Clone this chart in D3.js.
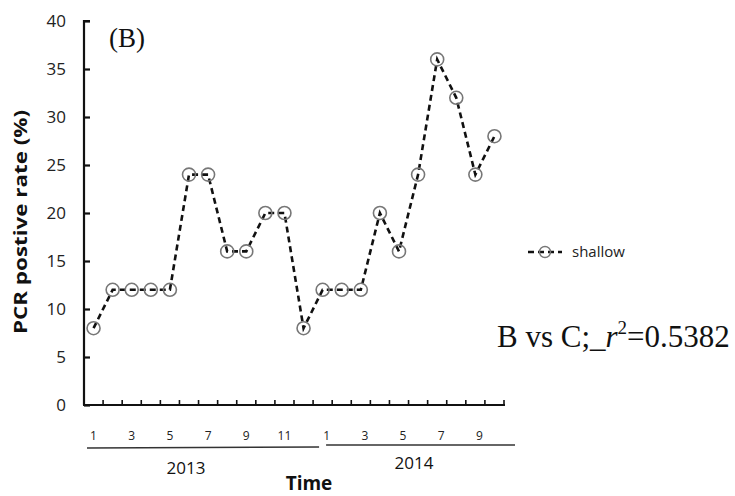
<!DOCTYPE html>
<meta charset="utf-8"/>
<head>
<style>
  body { margin:0; background:#fff; }
</style>
<script src="https://d3js.org/d3.v7.min.js" charset="utf-8"></script>
</head>
<body>
<script>
  // chart values
  var months2013 = [1,2,3,4,5,6,7,8,9,10,11,12];
  var months2014 = [1,2,3,4,5,6,7,8,9,10];
  var shallow2013 = [8,12,12,12,12,24,24,16,16,20,20,8];
  var shallow2014 = [12,12,12,20,16,24,36,32,24,28];
  var yTicks = [0,5,10,15,20,25,30,35,40];
  var years = ["2013","2014"];

  var sans = "'Open Sans', 'Noto Sans', sans-serif";
  var serif = "'Liberation Serif', 'Times New Roman', serif";

  var data = months2013.map(function(m,i){ return {key:"2013-"+m, year:"2013", month:m, value:shallow2013[i]}; })
    .concat(months2014.map(function(m,i){ return {key:"2014-"+m, year:"2014", month:m, value:shallow2014[i]}; }));

  var width = 735, height = 496;
  var svg = d3.select("body").append("svg")
    .attr("width", width)
    .attr("height", height)
    .style("font-family", sans);

  var x = d3.scaleBand()
    .domain(data.map(function(d){ return d.key; }))
    .range([84, 504]);

  var y = d3.scaleLinear()
    .domain([0, 40])
    .range([405, 21]);

  // y axis
  var yAxis = d3.axisRight(y).tickValues(yTicks).tickSize(6).tickFormat("");
  var gy = svg.append("g").attr("transform", "translate(84,0)").call(yAxis);
  gy.select(".domain").attr("stroke","#111").attr("stroke-width",2.2)
    .attr("d", "M6,21H0V405");
  gy.selectAll(".tick line").attr("stroke","#111").attr("stroke-width",2.2);

  svg.selectAll(".ylab").data(yTicks).enter().append("text")
    .attr("x", 66).attr("y", function(d){ return y(d); })
    .attr("dy", "0.36em")
    .attr("text-anchor", "end")
    .attr("font-size", 17)
    .attr("fill", "#222")
    .text(function(d){ return d; });

  // x axis: ticks between categories
  var gx = svg.append("g");
  gx.append("line").attr("x1",83).attr("x2",505).attr("y1",405).attr("y2",405)
    .attr("stroke","#111").attr("stroke-width",2.2);
  var tickPos = data.map(function(d){ return x(d.key) + x.bandwidth(); });
  gx.selectAll(".xt").data(tickPos).enter().append("line")
    .attr("x1", function(d){ return d; }).attr("x2", function(d){ return d; })
    .attr("y1", 405).attr("y2", 400)
    .attr("stroke","#111").attr("stroke-width",1.6);

  // month labels (odd months)
  svg.selectAll(".mlab").data(data.filter(function(d){ return d.month % 2 === 1; }))
    .enter().append("text")
    .attr("x", function(d){ return x(d.key) + x.bandwidth()/2 + (d.year === "2014" ? 4 : 0); })
    .attr("y", 440)
    .attr("text-anchor", "middle")
    .attr("font-size", 12)
    .attr("fill", "#222")
    .text(function(d){ return d.month; });

  // year group lines and labels
  var yearInfo = years.map(function(yr){
    var ds = data.filter(function(d){ return d.year === yr; });
    return {year: yr, x0: x(ds[0].key), x1: x(ds[ds.length-1].key) + x.bandwidth()};
  });
  svg.selectAll(".yline").data(yearInfo).enter().append("line")
    .attr("x1", function(d,i){ return i === 0 ? d.x0 + 3 : d.x0 + 13; })
    .attr("x2", function(d,i){ return i === 0 ? d.x1 + 6 : d.x1 + 11; })
    .attr("y1", function(d,i){ return i === 0 ? 448 : 445; })
    .attr("y2", function(d,i){ return i === 0 ? 447 : 445; })
    .attr("stroke", "#333").attr("stroke-width", 1.4);
  svg.selectAll(".ylabel").data(yearInfo).enter().append("text")
    .attr("x", function(d,i){ return i === 0 ? 186 : 414; })
    .attr("y", function(d,i){ return i === 0 ? 474 : 469; })
    .attr("text-anchor", "middle")
    .attr("font-size", 17)
    .attr("fill", "#111")
    .text(function(d){ return d.year; });

  svg.append("text").attr("x", 309).attr("y", 490)
    .attr("text-anchor","middle").attr("font-size",19).attr("font-weight","bold")
    .attr("fill","#111").text("Time");

  svg.append("text")
    .attr("transform", "translate(27,222) rotate(-90)")
    .attr("text-anchor","middle").attr("font-size",18).attr("font-weight","bold")
    .attr("textLength",224).attr("lengthAdjust","spacingAndGlyphs")
    .attr("fill","#111").text("PCR postive rate (%)");

  // series
  var line = d3.line()
    .x(function(d){ return x(d.key) + x.bandwidth()/2; })
    .y(function(d){ return y(d.value); });

  svg.append("path").datum(data)
    .attr("d", line)
    .attr("fill","none")
    .attr("stroke","#111")
    .attr("stroke-width",2.6)
    .attr("stroke-dasharray","6,4");

  svg.selectAll(".pt").data(data).enter().append("circle")
    .attr("cx", function(d){ return x(d.key) + x.bandwidth()/2; })
    .attr("cy", function(d){ return y(d.value); })
    .attr("r", 6.5)
    .attr("fill","none")
    .attr("stroke","#777")
    .attr("stroke-width",1.6);

  // legend
  var lg = svg.append("g");
  lg.append("line").attr("x1",528).attr("x2",562).attr("y1",252).attr("y2",252)
    .attr("stroke","#111").attr("stroke-width",2.6).attr("stroke-dasharray","6,4");
  lg.append("circle").attr("cx",545).attr("cy",252).attr("r",5.5)
    .attr("fill","none").attr("stroke","#777").attr("stroke-width",1.4);
  lg.append("text").attr("x",572).attr("y",252).attr("dy","0.36em")
    .attr("font-size",15).attr("fill","#222").text("shallow");

  // annotations
  svg.append("text").attr("x",109).attr("y",47)
    .style("font-family", serif)
    .attr("font-size",27).attr("fill","#111").text("(B)");

  var ann = svg.append("text").attr("x",497).attr("y",347)
    .style("font-family", serif)
    .attr("font-size",31).attr("fill","#111");
  ann.append("tspan").text("B vs C;_");
  ann.append("tspan").attr("font-style","italic").text("r");
  ann.append("tspan").attr("font-size",19).attr("dy",-13).text("2");
  ann.append("tspan").attr("dy",13).text("=0.5382");
</script>
</body>
</html>
